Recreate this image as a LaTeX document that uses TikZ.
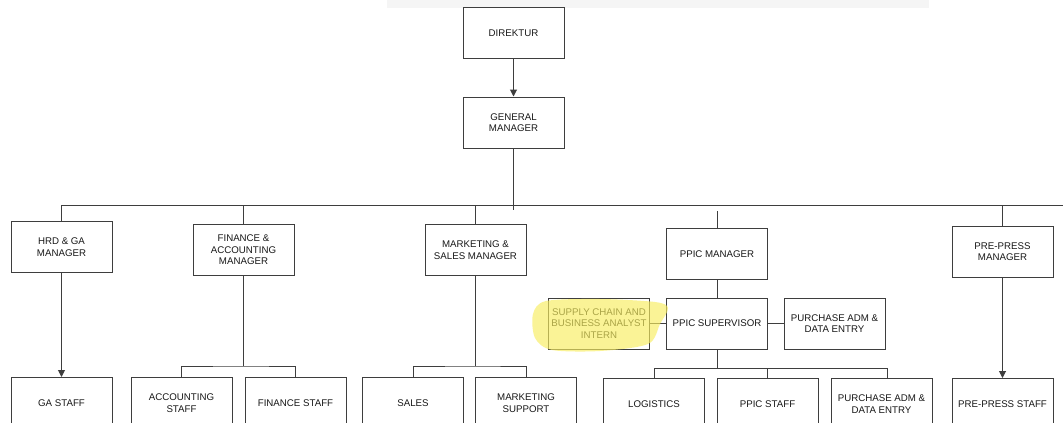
\documentclass[tikz,border=0pt]{standalone}
\usepackage{fontspec}
\setmainfont{Liberation Sans}
\usepackage{tikz}
\usetikzlibrary{shapes,arrows.meta}
\definecolor{linegray}{RGB}{62,62,62}
\definecolor{hilite}{RGB}{248,238,95}

\begin{document}
\begin{tikzpicture}[x=1pt,y=-1pt,
  box/.style={draw=linegray, line width=1pt, rectangle, minimum width=101pt, minimum height=51pt, align=center, text=black!90, font=\fontsize{9.7}{11.6}\selectfont},
  link/.style={draw=linegray, line width=1pt},
  arr/.style={link, -{Triangle[length=7pt,width=7pt]}}
  ]
  \clip (0,0) rectangle (1063,423);
  \fill[white] (0,0) rectangle (1063,423);
  \fill[black!4] (387,0) rectangle (929,8);

  % top
  \node[box] (dir) at (513.5,33) {DIREKTUR};
  \node[box] (gm) at (513.5,122.5) {GENERAL\\MANAGER};

  % managers
  \node[box] (hrd) at (61.5,247) {HRD \& GA\\MANAGER};
  \node[box] (fin) at (243.5,250) {FINANCE \&\\ACCOUNTING\\MANAGER};
  \node[box] (mkt) at (475.5,250) {MARKETING \&\\SALES MANAGER};
  \node[box] (ppic) at (717,254) {PPIC MANAGER};
  \node[box] (pre) at (1002.5,251.5) {PRE-PRESS\\MANAGER};

  % ppic row
  \node[box] (scm) at (599,323.5) {SUPPLY CHAIN AND\\BUSINESS ANALYST\\INTERN};
  \node[box] (sup) at (717,323.5) {PPIC SUPERVISOR};
  \node[box] (padm) at (834.5,323.5) {PURCHASE ADM \&\\DATA ENTRY};

  % staff
  \node[box] (ga) at (61.5,403) {GA STAFF};
  \node[box] (acc) at (181.5,403) {ACCOUNTING\\STAFF};
  \node[box] (fst) at (295.5,403) {FINANCE STAFF};
  \node[box] (sal) at (413,403) {SALES};
  \node[box] (msup) at (526,403) {MARKETING\\SUPPORT};
  \node[box] (log) at (654,404) {LOGISTICS};
  \node[box] (pst) at (767.5,404) {PPIC STAFF};
  \node[box] (pab) at (881.5,404) {PURCHASE ADM \&\\DATA ENTRY};
  \node[box] (prs) at (1002.5,404) {PRE-PRESS STAFF};

  % connectors
  \draw[arr] (dir) -- (gm);
  \draw[link] (gm.south) -- ++(0,61);
  \coordinate (busR) at (1063,205);
  \draw[link] (hrd.north) |- (busR);
  \foreach \n in {fin,mkt,pre}
    \draw[link] (\n.north) -- (\n.north |- busR);
  \draw[link] (ppic.north) -- ++(0,-17);

  \draw[arr] (hrd) -- (ga);
  \draw[arr] (pre) -- (prs);

  \draw[link] (fin.south) -- ++(0,90) coordinate (fb);
  \draw[link] (acc.north) |- (fb) -| (fst.north);
  \draw[link] (mkt.south) -- ++(0,90) coordinate (mb);
  \draw[link] (sal.north) |- (mb) -| (msup.north);

  \draw[link] (ppic) -- (sup);
  \draw[link] (scm) -- (sup);
  \draw[link] (sup) -- (padm);
  \draw[link] (sup.south) -- ++(0,19) coordinate (sb);
  \draw[link] (log.north) |- (sb) -| ([xshift=6pt]pab.north);
  \draw[link] (pst.north) -- (pst.north |- sb);

  % highlight
  \fill[hilite, opacity=0.65] plot[smooth cycle] coordinates {(533,314) (546,301) (600,299) (655,302) (668,308) (660,324) (648,344) (600,351) (552,350) (535,338)};
\end{tikzpicture}
\end{document}
